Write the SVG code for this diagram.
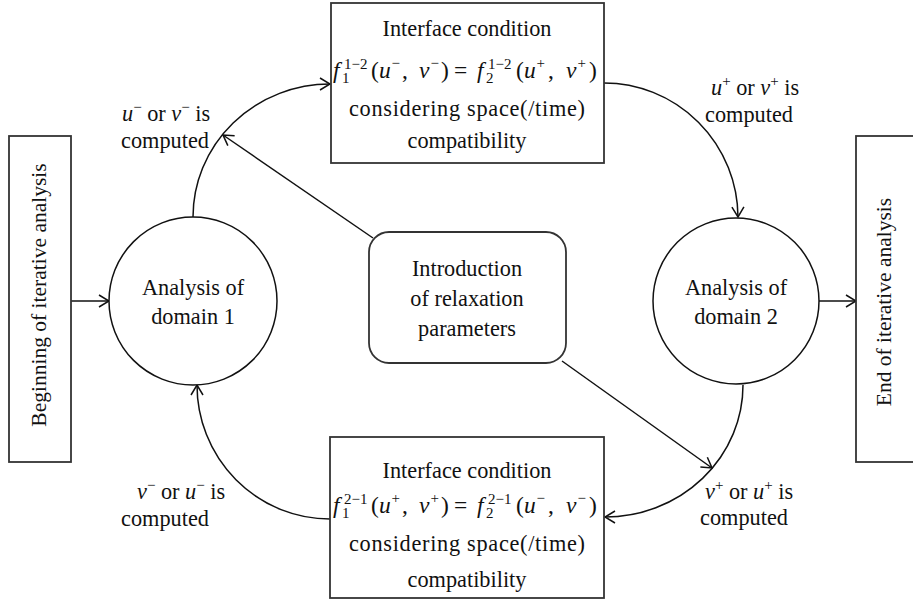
<svg xmlns="http://www.w3.org/2000/svg" width="913" height="603" viewBox="0 0 913 603" font-family="'Liberation Serif', 'DejaVu Serif', serif">
<style>
text{font-family:'Liberation Serif','DejaVu Serif',serif;font-size:22.3px;fill:#111}
.box{fill:#fff;stroke:#333;stroke-width:1.8}
.circ{fill:#fff;stroke:#111;stroke-width:1.5}
.con{fill:none;stroke:#111;stroke-width:1.5;marker-end:url(#ah)}
.i{font-style:italic}
.s{font-size:15px}
.f{font-size:23.5px}
.rot{font-size:21.5px}
</style>
<defs>
<marker id="ah" viewBox="0 0 12 14" refX="11" refY="7" markerWidth="12" markerHeight="14" markerUnits="userSpaceOnUse" orient="auto">
<path d="M1,1 L11,7 L1,13" fill="none" stroke="#111" stroke-width="1.5"/>
</marker>
</defs>
<rect width="913" height="603" fill="#fff"/>

<g id="connectors">
<line class="con" x1="71" y1="301" x2="109" y2="301"/>
<line class="con" x1="819" y1="301" x2="856" y2="301"/>
<path class="con" d="M193,217 A137,133 0 0 1 330,84"/>
<path class="con" d="M604,83 A134,135 0 0 1 738,217"/>
<path class="con" d="M743,385 A138,132 0 0 1 605,517"/>
<path class="con" d="M330,519 A133,134 0 0 1 197,385"/>
<line class="con" x1="373" y1="238" x2="223" y2="135"/>
<line class="con" x1="562" y1="361" x2="712" y2="468"/>
</g>

<g id="begin">
<rect class="box" x="9" y="136" width="62" height="326"/>
<text class="rot" transform="translate(46,295) rotate(-90)" text-anchor="middle">Beginning of iterative analysis</text>
</g>

<g id="end">
<rect class="box" x="856" y="136" width="70" height="326"/>
<text class="rot" transform="translate(891,302) rotate(-90)" text-anchor="middle">End of iterative analysis</text>
</g>

<g id="domain1">
<circle class="circ" cx="193" cy="301" r="84"/>
<text x="193" y="295" text-anchor="middle">Analysis of</text>
<text x="193" y="324" text-anchor="middle">domain 1</text>
</g>

<g id="domain2">
<circle class="circ" cx="736" cy="301" r="83"/>
<text x="736" y="295" text-anchor="middle">Analysis of</text>
<text x="736" y="324" text-anchor="middle">domain 2</text>
</g>

<g id="relax">
<rect class="box" x="369" y="232" width="197" height="131" rx="20" ry="20"/>
<text x="467" y="276" text-anchor="middle">Introduction</text>
<text x="467" y="306" text-anchor="middle">of relaxation</text>
<text x="467" y="336" text-anchor="middle">parameters</text>
</g>

<g id="iface12">
<rect class="box" x="331" y="3" width="273" height="160"/>
<text x="467" y="36" text-anchor="middle">Interface condition</text>
<text class="f" transform="translate(333,78)"><tspan class="i" x="0" y="0">f</tspan><tspan class="s" x="9" y="5">1</tspan><tspan class="s" x="11" y="-9">1−2</tspan><tspan x="38" y="0">(</tspan><tspan class="i" x="46" y="0">u</tspan><tspan class="s" x="58.5" y="-10">−</tspan><tspan x="69" y="0">,</tspan><tspan class="i" x="86" y="0">v</tspan><tspan class="s" x="97.5" y="-10">−</tspan><tspan x="108" y="0">)</tspan><tspan x="121" y="0">=</tspan><tspan class="i" x="144" y="0">f</tspan><tspan class="s" x="153" y="5">2</tspan><tspan class="s" x="155" y="-9">1−2</tspan><tspan x="183" y="0">(</tspan><tspan class="i" x="191" y="0">u</tspan><tspan class="s" x="203.5" y="-10">+</tspan><tspan x="215" y="0">,</tspan><tspan class="i" x="233" y="0">v</tspan><tspan class="s" x="244.5" y="-10">+</tspan><tspan x="256" y="0">)</tspan></text>
<text x="467" y="116" text-anchor="middle" textLength="236" lengthAdjust="spacing">considering space(/time)</text>
<text x="467" y="148" text-anchor="middle">compatibility</text>
</g>

<g id="iface21">
<rect class="box" x="330" y="437" width="274" height="161"/>
<text x="467" y="478" text-anchor="middle">Interface condition</text>
<text class="f" transform="translate(333,513)"><tspan class="i" x="0" y="0">f</tspan><tspan class="s" x="9" y="5">1</tspan><tspan class="s" x="11" y="-9">2−1</tspan><tspan x="38" y="0">(</tspan><tspan class="i" x="46" y="0">u</tspan><tspan class="s" x="58.5" y="-10">+</tspan><tspan x="69" y="0">,</tspan><tspan class="i" x="86" y="0">v</tspan><tspan class="s" x="97.5" y="-10">+</tspan><tspan x="108" y="0">)</tspan><tspan x="121" y="0">=</tspan><tspan class="i" x="144" y="0">f</tspan><tspan class="s" x="153" y="5">2</tspan><tspan class="s" x="155" y="-9">2−1</tspan><tspan x="183" y="0">(</tspan><tspan class="i" x="191" y="0">u</tspan><tspan class="s" x="203.5" y="-10">−</tspan><tspan x="215" y="0">,</tspan><tspan class="i" x="233" y="0">v</tspan><tspan class="s" x="244.5" y="-10">−</tspan><tspan x="256" y="0">)</tspan></text>
<text x="467" y="551" text-anchor="middle" textLength="236" lengthAdjust="spacing">considering space(/time)</text>
<text x="467" y="587" text-anchor="middle">compatibility</text>
</g>

<g id="labels">
<text x="122" y="121"><tspan class="i">u</tspan><tspan class="s" dy="-9">−</tspan><tspan dy="9"> or </tspan><tspan class="i">v</tspan><tspan class="s" dy="-9">−</tspan><tspan dy="9"> is</tspan></text>
<text x="121" y="148">computed</text>
<text x="711" y="95"><tspan class="i">u</tspan><tspan class="s" dy="-9">+</tspan><tspan dy="9"> or </tspan><tspan class="i">v</tspan><tspan class="s" dy="-9">+</tspan><tspan dy="9"> is</tspan></text>
<text x="705" y="122">computed</text>
<text x="137" y="499"><tspan class="i">v</tspan><tspan class="s" dy="-9">−</tspan><tspan dy="9"> or </tspan><tspan class="i">u</tspan><tspan class="s" dy="-9">−</tspan><tspan dy="9"> is</tspan></text>
<text x="121" y="526">computed</text>
<text x="705" y="499"><tspan class="i">v</tspan><tspan class="s" dy="-9">+</tspan><tspan dy="9"> or </tspan><tspan class="i">u</tspan><tspan class="s" dy="-9">+</tspan><tspan dy="9"> is</tspan></text>
<text x="700" y="525">computed</text>
</g>
</svg>
